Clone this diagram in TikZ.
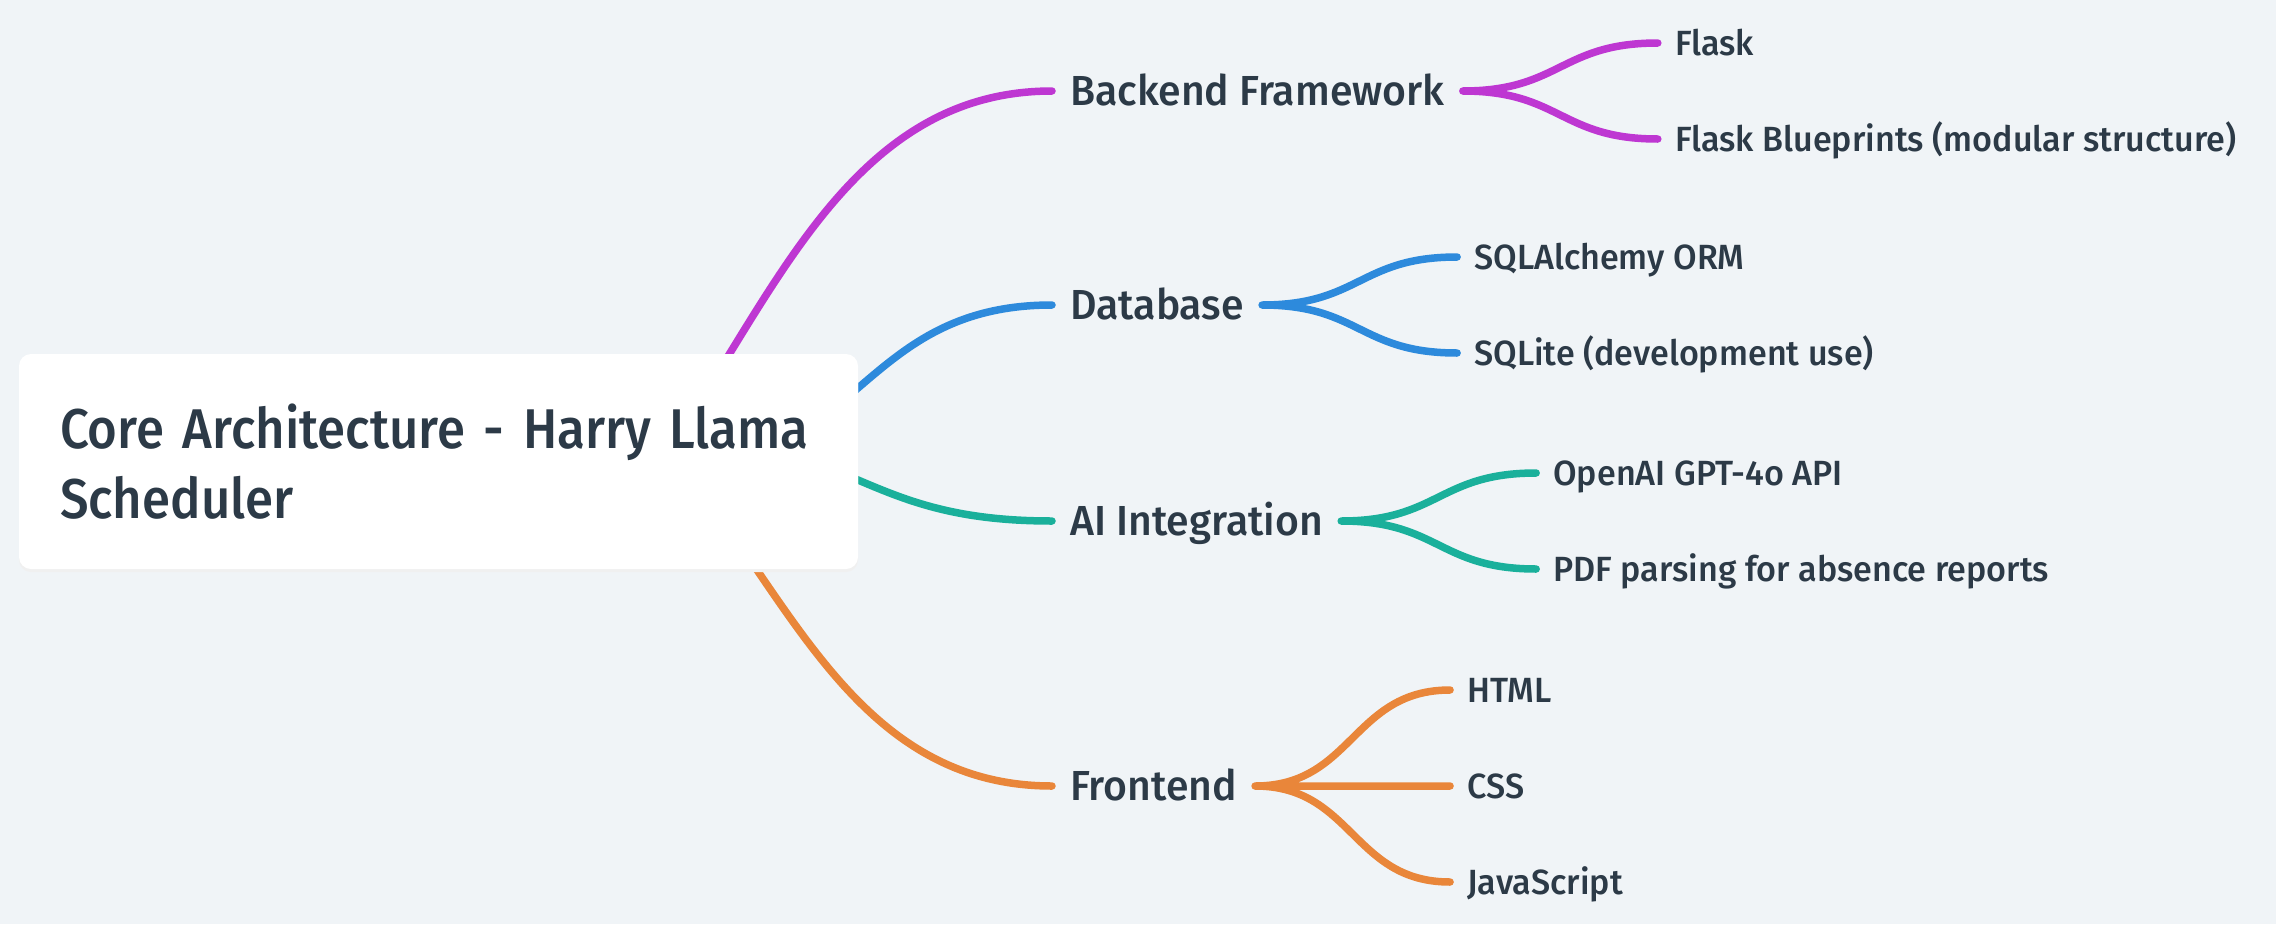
\documentclass[tikz,border=0pt]{standalone}
\usepackage{fontspec}
\setmainfont{Fira Sans}[UprightFont={* Medium},FakeStretch=0.975]
\newfontfamily\rootfont{Fira Sans}[UprightFont={* Medium},FakeStretch=0.91]
\usepackage{xcolor}
\usetikzlibrary{positioning,calc}
\definecolor{paper}{HTML}{F0F4F7}
\definecolor{ink}{HTML}{2C3A47}
\definecolor{cpurple}{HTML}{BE37D2}
\definecolor{cblue}{HTML}{2D8ADC}
\definecolor{cteal}{HTML}{1AB09B}
\definecolor{corange}{HTML}{E9863A}

\begin{document}
\begin{tikzpicture}[x=1pt,y=-1pt,
  link/.style={line width=7.5pt,line cap=round},
  fork/.style={to path={let \p1=(\tikztostart),\p2=(\tikztotarget) in
    .. controls ({(\x1+\x2)/2},\y1) and ({(\x1+\x2)/2},\y2) .. (\tikztotarget)}},
  topic/.style={anchor=west,inner xsep=18pt,inner ysep=0pt,text height=29pt,text depth=0pt,
    text=ink,font=\fontsize{42}{50}\selectfont},
  item/.style={inner xsep=17pt,inner ysep=0pt,text height=24pt,text depth=0pt,
    text=ink,font=\fontsize{35}{42}\selectfont},
  rootbox/.style={fill=white,rounded corners=12pt,minimum width=839pt,minimum height=215pt,
    inner xsep=41pt,text width=757pt,align=left,text=ink,font=\rootfont\fontsize{56}{70}\selectfont}]
\fill[paper] (0,0) rectangle (2276,924);
\useasboundingbox (0,0) rectangle (2276,924);

% main topics
\node[topic] (bf) at (1052,91) {Backend Framework};
\node[topic] (db) at (1052,305) {Database};
\node[topic] (ai) at (1052,521) {AI Integration};
\node[topic] (fe) at (1052,786) {Frontend};

% leaves
\node[item,right=195pt of bf,yshift=48pt] (flask) {Flask};
\node[item,right=195pt of bf,yshift=-48pt] (blueprints) {Flask Blueprints (modular structure)};
\node[item,right=195pt of db,yshift=48pt] (sqla) {SQLAlchemy ORM};
\node[item,right=195pt of db,yshift=-48pt] (sqlite) {SQLite (development use)};
\node[item,right=195pt of ai,yshift=48pt] (openai) {OpenAI GPT-4o API};
\node[item,right=195pt of ai,yshift=-48pt] (pdf) {PDF parsing for absence reports};
\node[item,right=195pt of fe,yshift=96pt] (html) {HTML};
\node[item,right=195pt of fe] (css) {CSS};
\node[item,right=195pt of fe,yshift=-96pt] (js) {JavaScript};

% links out of the root box
\coordinate (rbf) at (690,418);
\coordinate (rdb) at (834,409);
\coordinate (rai) at (834,470);
\coordinate (rfe) at (720,516);
\draw[link,cpurple] (rbf) -- (730,353) .. controls +(80.5,-131) and +(-161,0) .. (bf.west);
\draw[link,cblue] (rdb) -- (858,388) .. controls +(48.5,-41.5) and +(-97,0) .. (db.west);
\draw[link,cteal] (rai) -- (858,480) .. controls +(48.5,20.5) and +(-97,0) .. (ai.west);
\draw[link,corange] (rfe) -- (757,570) .. controls +(73.75,108) and +(-147.5,0) .. (fe.west);

\draw[link,cpurple] (bf.east) to[fork] (flask.west) (bf.east) to[fork] (blueprints.west);
\draw[link,cblue] (db.east) to[fork] (sqla.west) (db.east) to[fork] (sqlite.west);
\draw[link,cteal] (ai.east) to[fork] (openai.west) (ai.east) to[fork] (pdf.west);
\draw[link,corange] (fe.east) to[fork] (html.west) (fe.east) to[fork] (css.west)
  (fe.east) to[fork] (js.west);

% root
\fill[black!6,rounded corners=12pt] (19,357) rectangle (858,572);
\node[rootbox] (root) at (438.5,461.5) {\mbox{Core Architecture - Harry Llama}\\Scheduler};
\end{tikzpicture}
\end{document}
